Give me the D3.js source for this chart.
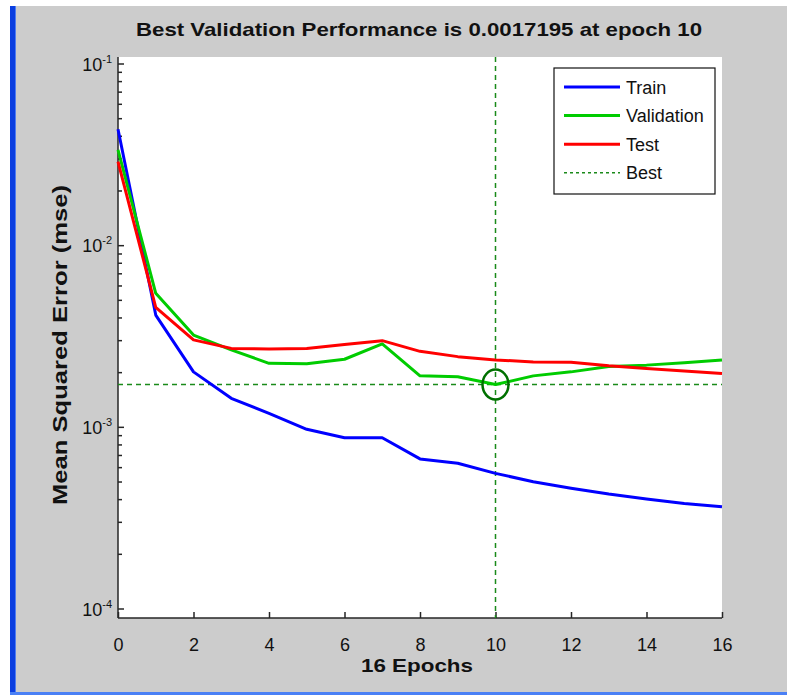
<!DOCTYPE html>
<html>
<head>
<meta charset="utf-8">
<script src="https://cdn.jsdelivr.net/npm/d3@7"></script>
<style>
  html, body { margin: 0; padding: 0; background: #ffffff; }
  svg { display: block; }
  text { font-family: "Liberation Sans", Arial, Helvetica, sans-serif; }
</style>
</head>
<body>
<svg id="chart" width="787" height="695"></svg>
<script>
// ---- data ----
const epochs = [0, 1, 2, 3, 4, 5, 6, 7, 8, 9, 10, 11, 12, 13, 14, 15, 16];
const train = [0.0437, 0.00415, 0.00202, 0.001445, 0.001194, 0.000975, 0.000877, 0.000877, 0.00067, 0.000634, 0.000558, 0.000502, 0.000462, 0.000429, 0.000403, 0.000381, 0.000365];
const validation = [0.0337, 0.00547, 0.00322, 0.00267, 0.00225, 0.00224, 0.00237, 0.00288, 0.00192, 0.0019, 0.0017195, 0.00192, 0.00202, 0.00216, 0.0022, 0.00227, 0.00235];
const test = [0.029, 0.00458, 0.00303, 0.00272, 0.0027, 0.00272, 0.00286, 0.0030, 0.00262, 0.00245, 0.00235, 0.00229, 0.00228, 0.00218, 0.00211, 0.00204, 0.00198];
const bestEpoch = 10;
const bestValue = 0.0017195;
const xTickValues = [0, 2, 4, 6, 8, 10, 12, 14, 16];
const yMajorExponents = [-1, -2, -3, -4];
const seriesNames = ["Train", "Validation", "Test", "Best"];
const titleText = "Best Validation Performance is 0.0017195 at epoch 10";
const xLabelText = "16 Epochs";
const yLabelText = "Mean Squared Error  (mse)";

// ---- layout ----
const svg = d3.select("#chart");
const plot = { left: 118, right: 722, top: 57, bottom: 618 };

// figure background
svg.append("rect").attr("x", 10).attr("y", 6).attr("width", 777).attr("height", 689).attr("fill", "#cccccc");
svg.append("rect").attr("x", 10).attr("y", 6).attr("width", 6).attr("height", 689).attr("fill", "#0a3ee0");
svg.append("rect").attr("x", 15).attr("y", 6).attr("width", 1).attr("height", 689).attr("fill", "#4f7df0");
svg.append("rect").attr("x", 10).attr("y", 692).attr("width", 777).attr("height", 3).attr("fill", "#4a80f5");

// plot area
svg.append("rect")
  .attr("x", plot.left).attr("y", plot.top)
  .attr("width", plot.right - plot.left).attr("height", plot.bottom - plot.top)
  .attr("fill", "#ffffff");

const x = d3.scaleLinear().domain([0, 16]).range([plot.left, plot.right]);
const y = d3.scaleLog().domain([1e-1, 1e-4]).range([64, 609]);

// ---- axes ----
const axisColor = "#262626";
// x axis line & ticks
svg.append("line").attr("x1", plot.left).attr("x2", plot.right)
  .attr("y1", plot.bottom).attr("y2", plot.bottom)
  .attr("stroke", axisColor).attr("stroke-width", 1.5);
svg.append("line").attr("x1", plot.left).attr("x2", plot.left)
  .attr("y1", plot.top).attr("y2", plot.bottom)
  .attr("stroke", axisColor).attr("stroke-width", 1.5);

const xAxis = d3.axisBottom(x).tickValues(xTickValues).tickSize(0).tickPadding(0).tickFormat(d3.format("d"));
const gx = svg.append("g").attr("transform", `translate(0,${plot.bottom})`).call(xAxis);
gx.select(".domain").remove();
gx.selectAll(".tick line").remove();
gx.selectAll(".tick").append("line")
  .attr("y1", 0).attr("y2", -6).attr("stroke", axisColor).attr("stroke-width", 1.5);
gx.selectAll(".tick text")
  .attr("y", 33).attr("dy", null)
  .attr("font-size", 18).attr("fill", "#111")
  .attr("font-family", "'Liberation Sans Narrow', 'Liberation Sans', Arial, sans-serif");

// y axis: major and minor ticks
const minorVals = [];
for (const e of [-2, -3, -4]) {
  for (const m of [2, 3, 4, 5, 6, 7, 8, 9]) minorVals.push(m * Math.pow(10, e));
}
const gy = svg.append("g");
gy.selectAll("line.minor").data(minorVals).join("line").attr("class", "minor")
  .attr("x1", plot.left).attr("x2", plot.left + 4)
  .attr("y1", d => y(d)).attr("y2", d => y(d))
  .attr("stroke", axisColor).attr("stroke-width", 1.5);
gy.selectAll("line.major").data(yMajorExponents).join("line").attr("class", "major")
  .attr("x1", plot.left).attr("x2", plot.left + 6)
  .attr("y1", d => y(Math.pow(10, d))).attr("y2", d => y(Math.pow(10, d)))
  .attr("stroke", axisColor).attr("stroke-width", 1.5);
const yl = gy.selectAll("text.ylab").data(yMajorExponents).join("text").attr("class", "ylab")
  .attr("x", 112).attr("y", d => y(Math.pow(10, d)) + 6.5)
  .attr("text-anchor", "end").attr("fill", "#111")
  .attr("font-family", "'Liberation Sans Narrow', 'Liberation Sans', Arial, sans-serif");
yl.append("tspan").attr("font-size", 18).text("10");
yl.append("tspan").attr("font-size", 11).attr("dy", -8).text(d => String(d));

// ---- series ----
const line = d3.line().x((d, i) => x(epochs[i])).y(d => y(d));
const colors = { Train: "#0000ff", Validation: "#00cc00", Test: "#ff0000", Best: "#1a8a1a" };

// best lines (behind)
svg.append("line").attr("x1", x(bestEpoch)).attr("x2", x(bestEpoch))
  .attr("y1", plot.top).attr("y2", plot.bottom)
  .attr("stroke", colors.Best).attr("stroke-width", 1.5).attr("stroke-dasharray", "5,4");
svg.append("line").attr("x1", plot.left).attr("x2", plot.right)
  .attr("y1", y(bestValue)).attr("y2", y(bestValue))
  .attr("stroke", colors.Best).attr("stroke-width", 1.5).attr("stroke-dasharray", "5,4");

const seriesData = [["Train", train], ["Validation", validation], ["Test", test]];
svg.selectAll("path.series").data(seriesData).join("path").attr("class", "series")
  .attr("d", d => line(d[1]))
  .attr("fill", "none").attr("stroke", d => colors[d[0]])
  .attr("stroke-width", 3).attr("stroke-linejoin", "round");

// best marker
svg.append("ellipse").attr("cx", x(bestEpoch)).attr("cy", y(bestValue))
  .attr("rx", 13).attr("ry", 15)
  .attr("fill", "none").attr("stroke", "#007000").attr("stroke-width", 2.5);

// ---- legend ----
const lg = svg.append("g");
lg.append("rect").attr("x", 554).attr("y", 68).attr("width", 161).attr("height", 126)
  .attr("fill", "#ffffff").attr("stroke", "#111").attr("stroke-width", 1.2);
const rows = lg.selectAll("g.row").data(seriesNames).join("g").attr("class", "row")
  .attr("transform", (d, i) => `translate(0,${87 + i * 28.6})`);
rows.append("line").attr("x1", 564).attr("x2", 620).attr("y1", 0).attr("y2", 0)
  .attr("stroke", d => colors[d])
  .attr("stroke-width", d => d === "Best" ? 1.5 : 3)
  .attr("stroke-dasharray", d => d === "Best" ? "3,3" : null);
rows.append("text").attr("x", 626).attr("y", 6.5).attr("font-size", 18).attr("fill", "#111")
  .text(d => d);

// ---- titles ----
svg.append("text").attr("x", 419).attr("y", 36).attr("text-anchor", "middle")
  .attr("font-size", 18.5).attr("font-weight", "bold").attr("fill", "#111")
  .attr("textLength", 566).attr("lengthAdjust", "spacingAndGlyphs")
  .text(titleText);
svg.append("text").attr("x", 417).attr("y", 672).attr("text-anchor", "middle")
  .attr("font-size", 19).attr("font-weight", "bold").attr("fill", "#111")
  .attr("textLength", 112).attr("lengthAdjust", "spacingAndGlyphs")
  .text(xLabelText);
svg.append("text").attr("transform", "translate(67,345) rotate(-90)")
  .attr("text-anchor", "middle")
  .attr("font-size", 20).attr("font-weight", "bold").attr("fill", "#111")
  .attr("textLength", 320).attr("lengthAdjust", "spacingAndGlyphs")
  .text(yLabelText);
</script>
</body>
</html>
